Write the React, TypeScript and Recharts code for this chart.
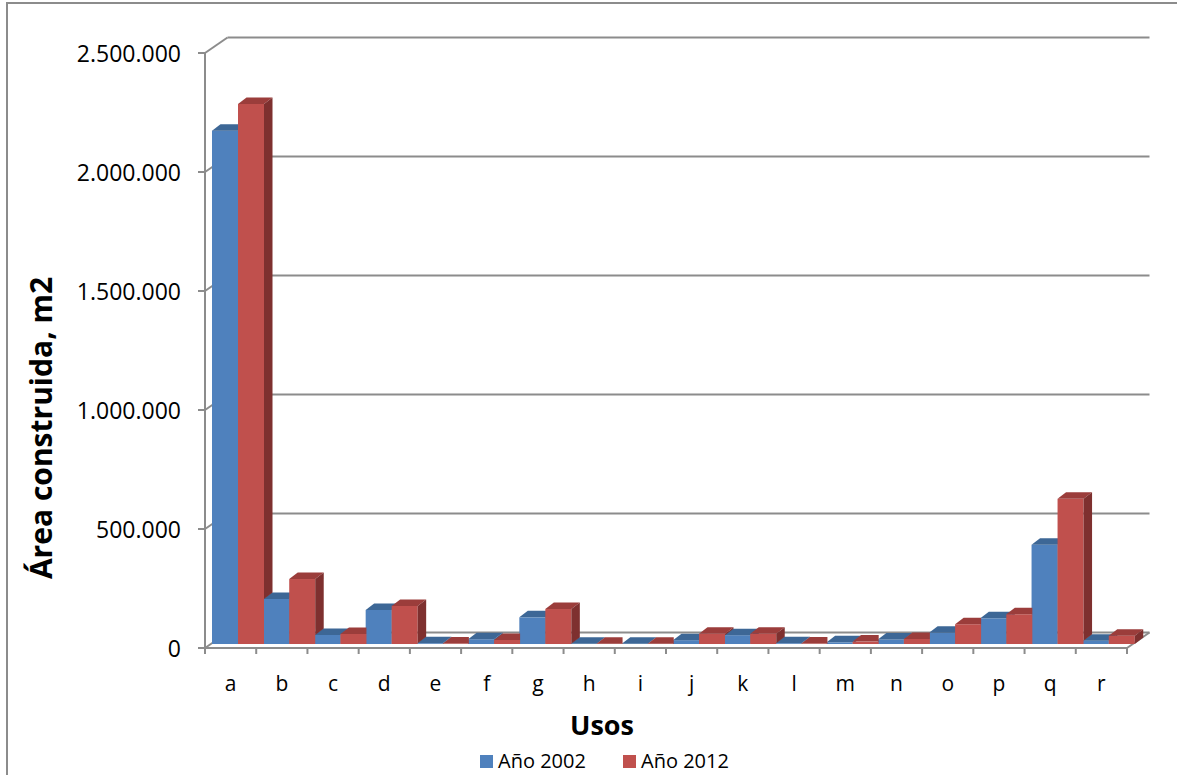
import React from 'react';
import { BarChart, Bar, XAxis, YAxis, CartesianGrid, Legend } from 'recharts';

// Usos del suelo (categorías) y área construida por año, en m2
const categories = ['a', 'b', 'c', 'd', 'e', 'f', 'g', 'h', 'i', 'j', 'k', 'l', 'm', 'n', 'o', 'p', 'q', 'r'];
const area2002 = [2157000, 189000, 38000, 143000, 3000, 20000, 112000, 1000, 1000, 16000, 37000, 3000, 7000, 19000, 47000, 108000, 417000, 14000];
const area2012 = [2269000, 273000, 42000, 160000, 2000, 17000, 147000, 1000, 1000, 43000, 43000, 2000, 10000, 21000, 83000, 125000, 610000, 35000];
const yTicks = [0, 500000, 1000000, 1500000, 2000000, 2500000];
const yTickLabels = ['0', '500.000', '1.000.000', '1.500.000', '2.000.000', '2.500.000'];
const seriesNames = ['Año 2002', 'Año 2012'];
const xTitle = 'Usos';
const yTitle = 'Área construida, m2';

const data = categories.map((uso, i) => ({ uso, y2002: area2002[i], y2012: area2012[i] }));

const W = 1177;
const H = 775;
// plane on which the bar fronts stand
const PLOT = { left: 212, top: 49, width: 922, height: 595 };
const BASE_Y = PLOT.top + PLOT.height;
const Y_AXIS_W = 60;
const X_AXIS_H = 40;
// offsets from the bar plane to the front edge and to the back wall
const FRONT = { dx: -7, dy: 4 };
const BACK = { dx: 15.5, dy: -11.5 };
// depth of each column
const DEPTH = { dx: 8.5, dy: 6.5 };
const GRID = '#8c8c8c';
const FONT = '"Open Sans", "DejaVu Sans", sans-serif';

const BLUE = { front: '#4f81bd', top: '#3d6796', side: '#385d8a' };
const RED = { front: '#c0504d', top: '#9b3d3b', side: '#7e302f' };

const renderGridLine = (props: any) => {
  const { x1, x2, y1 } = props;
  const fx1 = x1 + FRONT.dx;
  const fx2 = x2 + FRONT.dx;
  const fy = y1 + FRONT.dy;
  const bx1 = x1 + BACK.dx;
  const bx2 = x2 + BACK.dx;
  const by = y1 + BACK.dy;
  const isFloor = Math.abs(y1 - BASE_Y) < 0.5;
  return (
    <g key={`grid-${y1}`}>
      <line x1={fx1} y1={fy} x2={bx1} y2={by} stroke={GRID} strokeWidth={2} />
      <line x1={bx1} y1={by} x2={bx2} y2={by} stroke={GRID} strokeWidth={2} />
      {isFloor && (
        <g>
          <line x1={fx1} y1={fy} x2={fx2} y2={fy} stroke={GRID} strokeWidth={2} />
          <line x1={fx2} y1={fy} x2={bx2} y2={by} stroke={GRID} strokeWidth={2} />
          <line x1={fx1} y1={fy} x2={fx1} y2={PLOT.top + FRONT.dy} stroke={GRID} strokeWidth={2} />
        </g>
      )}
    </g>
  );
};

const YTick = (props: any) => {
  const { y, payload } = props;
  const fx = PLOT.left + FRONT.dx;
  const fy = y + FRONT.dy;
  const label = yTickLabels[yTicks.indexOf(payload.value)];
  return (
    <g>
      <line x1={fx - 7} y1={fy} x2={fx} y2={fy} stroke={GRID} strokeWidth={2} />
      <text x={fx - 24} y={fy} textAnchor="end" dominantBaseline="central" fontFamily={FONT} fontSize={23} fill="#000">
        {label}
      </text>
    </g>
  );
};

const XTick = (props: any) => {
  const { x, payload, index } = props;
  const band = PLOT.width / categories.length;
  const cx = x + FRONT.dx;
  const fy = BASE_Y + FRONT.dy;
  const left = cx - band / 2;
  const isLast = index === categories.length - 1;
  return (
    <g>
      <line x1={left} y1={fy} x2={left} y2={fy + 6} stroke={GRID} strokeWidth={2} />
      {isLast && <line x1={left + band} y1={fy} x2={left + band} y2={fy + 6} stroke={GRID} strokeWidth={2} />}
      <text x={cx} y={683} textAnchor="middle" dominantBaseline="central" fontFamily={FONT} fontSize={21} fill="#000">
        {payload.value}
      </text>
    </g>
  );
};

const poly = (pts: number[][]) => pts.map((p) => p.join(',')).join(' ');

const BlueShape = (props: any) => {
  const { x, y, width, height } = props;
  if (height == null || width == null) return <g />;
  const r = x + width;
  const b = y + height;
  return (
    <g>
      <rect x={x} y={y} width={width} height={height} fill={BLUE.front} />
      <polygon points={poly([[x, y], [r, y], [r + DEPTH.dx, y - DEPTH.dy], [x + DEPTH.dx, y - DEPTH.dy]])} fill={BLUE.top} />
      <polygon points={poly([[r, y], [r + DEPTH.dx, y - DEPTH.dy], [r + DEPTH.dx, b - DEPTH.dy], [r, b]])} fill={BLUE.side} />
    </g>
  );
};

const RedShape = (props: any) => {
  const { x, y, width, height, payload } = props;
  if (height == null || width == null) return <g />;
  const r = x + width;
  const b = y + height;
  // the next 2002 column stands right against this one and hides its side
  const i = categories.indexOf(payload.uso);
  const next = data[i + 1];
  const perUnit = payload.y2012 > 0 ? height / payload.y2012 : 0;
  const yNext = next ? b - next.y2002 * perUnit : b;
  const sideVisible = y < yNext;
  const topPts = sideVisible
    ? [[x, y], [r, y], [r + DEPTH.dx, y - DEPTH.dy], [x + DEPTH.dx, y - DEPTH.dy]]
    : [[x, y], [r, y], [r, y - DEPTH.dy], [x + DEPTH.dx, y - DEPTH.dy]];
  return (
    <g>
      <rect x={x} y={y} width={width} height={height} fill={RED.front} />
      <polygon points={poly(topPts)} fill={RED.top} />
      {sideVisible && (
        <polygon
          points={poly([[r, y], [r + DEPTH.dx, y - DEPTH.dy], [r + DEPTH.dx, yNext - DEPTH.dy], [r, yNext]])}
          fill={RED.side}
        />
      )}
    </g>
  );
};

const renderLegend = () => {
  const items = [
    { name: seriesNames[0], color: BLUE.front, x: 480 },
    { name: seriesNames[1], color: RED.front, x: 623 },
  ];
  return (
    <svg width={W} height={27} style={{ display: 'block' }}>
      {items.map((it) => (
        <g key={it.name}>
          <rect x={it.x} y={7} width={13} height={13} fill={it.color} />
          <text x={it.x + 18} y={20} fontFamily={FONT} fontSize={20} fill="#000">
            {it.name}
          </text>
        </g>
      ))}
    </svg>
  );
};

const XTitle = () => (
  <text x={602} y={735} textAnchor="middle" fontFamily={FONT} fontWeight="bold" fontSize={27} fill="#000">
    {xTitle}
  </text>
);

const YTitle = () => (
  <text
    x={40}
    y={428}
    transform="rotate(-90 40 428)"
    textAnchor="middle"
    dominantBaseline="central"
    fontFamily={FONT}
    fontWeight="bold"
    fontSize={30}
    fill="#000"
  >
    {yTitle}
  </text>
);

export default function App() {
  return (
    <div style={{ position: 'absolute', left: 0, top: 0, width: W, height: H, background: '#fff', overflow: 'hidden' }}>
      <div
        style={{
          position: 'absolute',
          left: 6,
          top: 2,
          width: W,
          height: H,
          borderLeft: `2px solid ${GRID}`,
          borderTop: `2px solid ${GRID}`,
        }}
      />
      <BarChart
        width={W}
        height={H}
        data={data}
        barCategoryGap={0}
        barGap={0}
        margin={{
          top: PLOT.top,
          right: W - PLOT.left - PLOT.width,
          bottom: H - BASE_Y - X_AXIS_H,
          left: PLOT.left - Y_AXIS_W,
        }}
      >
        <CartesianGrid vertical={false} horizontal={renderGridLine} />
        <XAxis
          dataKey="uso"
          axisLine={false}
          tickLine={false}
          height={X_AXIS_H}
          interval={0}
          tick={<XTick />}
          label={<XTitle />}
        />
        <YAxis
          type="number"
          domain={[0, 2500000]}
          ticks={yTicks}
          interval={0}
          axisLine={false}
          tickLine={false}
          width={Y_AXIS_W}
          tick={<YTick />}
          label={<YTitle />}
        />
        <Legend
          layout="vertical"
          align="center"
          verticalAlign="middle"
          wrapperStyle={{ left: 0, top: 748, width: W, height: 27 }}
          content={renderLegend}
        />
        <Bar dataKey="y2002" name={seriesNames[0]} fill={BLUE.front} shape={BlueShape} isAnimationActive={false} />
        <Bar dataKey="y2012" name={seriesNames[1]} fill={RED.front} shape={RedShape} isAnimationActive={false} />
      </BarChart>
    </div>
  );
}
